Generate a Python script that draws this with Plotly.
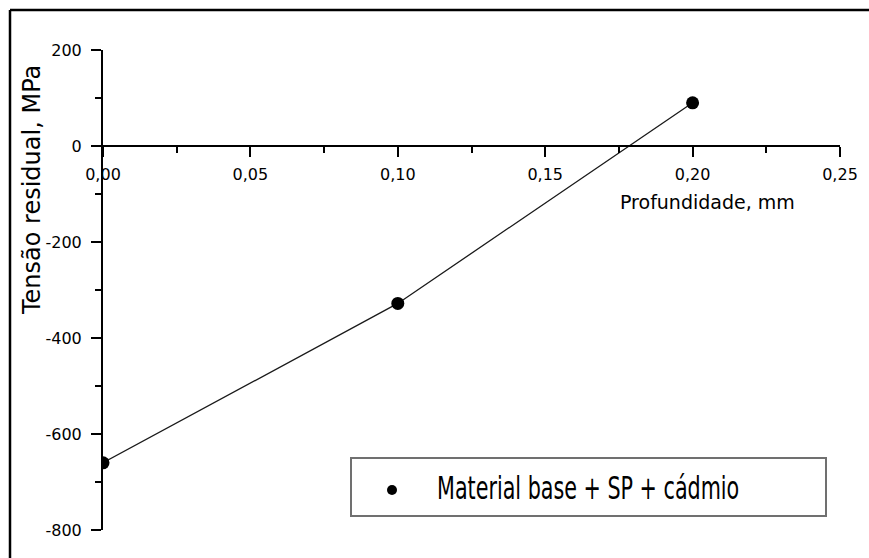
import plotly.graph_objects as go

# Residual stress profile vs. depth
depth_mm = [0.0, 0.10, 0.20]
stress_mpa = [-660, -328, 90]
series_name = "Material base + SP + cádmio"

x_tick_vals = [0.0, 0.05, 0.10, 0.15, 0.20, 0.25]
x_tick_text = ["0,00", "0,05", "0,10", "0,15", "0,20", "0,25"]
x_minor_vals = [0.025, 0.075, 0.125, 0.175, 0.225]
y_tick_vals = [-800, -600, -400, -200, 0, 200]
y_tick_text = ["-800", "-600", "-400", "-200", "0", "200"]
y_minor_vals = [-700, -500, -300, -100, 100]

x_range = [0.0, 0.25]
y_range = [-800, 200]

W, H = 869, 558
L, R, T, B = 103, 840, 50, 530  # plot area in pixels


def px(x):
    return (x - L) / (R - L)


def py(y):
    return (B - y) / (B - T)


FONT = "DejaVu Sans"

fig = go.Figure()
fig.add_trace(go.Scatter(
    x=depth_mm, y=stress_mpa, mode="lines+markers", name=series_name,
    line=dict(color="#1a1a1a", width=1.3),
    marker=dict(color="black", size=13),
    cliponaxis=True,
    showlegend=False,
))

# x axis crosses the y axis at zero
x_axis_pos = (0 - y_range[0]) / (y_range[1] - y_range[0])

axis_common = dict(
    showline=True, linecolor="black", linewidth=2,
    ticks="outside", tickwidth=2, tickcolor="black", ticklen=10,
    showgrid=False, zeroline=False,
    tickfont=dict(family=FONT, size=16, color="black"),
)

fig.update_layout(
    width=W, height=H, autosize=False,
    margin=dict(l=L, r=W - R, t=T, b=H - B, pad=0),
    paper_bgcolor="white", plot_bgcolor="white",
    showlegend=False,
    xaxis=dict(
        range=x_range, anchor="free", position=x_axis_pos,
        tickmode="array", tickvals=x_tick_vals, ticktext=x_tick_text,
        ticklabelstandoff=4,
        minor=dict(tickmode="array", tickvals=x_minor_vals, ticks="outside",
                   ticklen=6, tickwidth=2, tickcolor="black"),
        **axis_common,
    ),
    yaxis=dict(
        range=y_range,
        tickmode="array", tickvals=y_tick_vals, ticktext=y_tick_text,
        ticklabelstandoff=6,
        minor=dict(tickmode="array", tickvals=y_minor_vals, ticks="outside",
                   ticklen=6, tickwidth=2, tickcolor="black"),
        **axis_common,
    ),
)

annotations = [
    dict(text="Profundidade, mm", x=px(707), y=py(202), xref="paper", yref="paper",
         xanchor="center", yanchor="middle", showarrow=False,
         font=dict(family=FONT, size=19, color="black")),
    dict(text="Tensão residual, MPa", x=px(32), y=py(190), xref="paper", yref="paper",
         xanchor="center", yanchor="middle", textangle=-90, showarrow=False,
         font=dict(family=FONT, size=24, color="black")),
    dict(text=series_name, x=px(435), y=py(488), xref="paper", yref="paper",
         xanchor="left", yanchor="middle", showarrow=False,
         font=dict(family="DejaVu Sans Condensed, DejaVu Sans", size=23, color="black")),
]

shapes = [
    # outer frame (top and left)
    dict(type="line", xref="paper", yref="paper", x0=px(10), x1=px(W + 5), y0=py(10), y1=py(10),
         line=dict(color="black", width=2.5)),
    dict(type="line", xref="paper", yref="paper", x0=px(10), x1=px(10), y0=py(10), y1=py(H + 5),
         line=dict(color="black", width=2.5)),
    # legend box
    dict(type="rect", xref="paper", yref="paper", x0=px(351), x1=px(826), y0=py(516), y1=py(458),
         line=dict(color="#707070", width=2), fillcolor="white"),
    dict(type="circle", xref="paper", yref="paper", x0=px(387), x1=px(397), y0=py(495), y1=py(485),
         line=dict(color="black", width=0), fillcolor="black"),
]

fig.update_layout(annotations=annotations, shapes=shapes)

# legend label uses a tall, narrow face: stretch it vertically
post_js = """
document.querySelectorAll('.annotation-text').forEach(function (t) {
  if (t.textContent.indexOf('SP +') >= 0) {
    t.style.transformBox = 'fill-box';
    t.style.transformOrigin = 'center';
    t.style.transform = 'scaleY(1.4)';
  }
});
"""
fig.write_html("out.html", post_script=post_js)
